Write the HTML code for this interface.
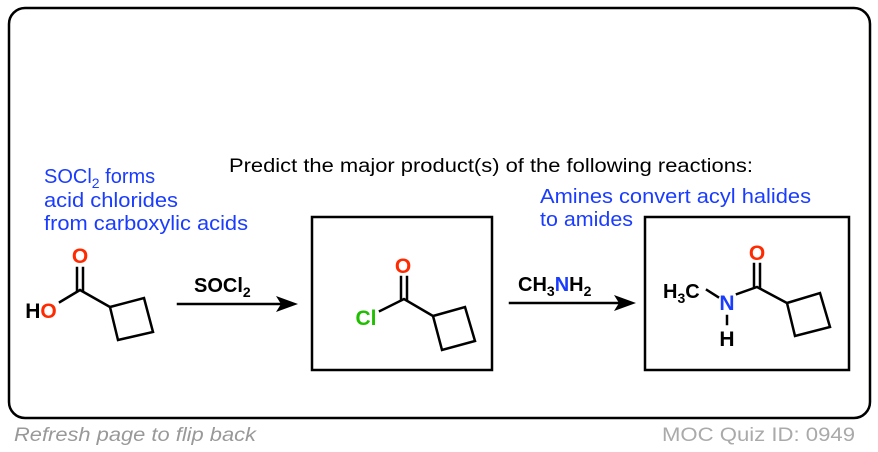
<!DOCTYPE html>
<html><head><meta charset="utf-8"><style>
html,body{margin:0;padding:0;background:#fff;}
svg{display:block;font-family:"Liberation Sans",Arial,sans-serif;}
</style></head><body>
<svg width="878" height="452" viewBox="0 0 878 452" xmlns="http://www.w3.org/2000/svg">
<rect x="9" y="8" width="861" height="410" rx="16" ry="16" fill="none" stroke="#000" stroke-width="2.5"/>
<g fill="#1a3cff" font-size="20">
<text x="44" y="183">SOCl<tspan font-size="14" dy="5">2</tspan><tspan dy="-5"> forms</tspan></text>
<text x="44" y="207" textLength="134" lengthAdjust="spacingAndGlyphs">acid chlorides</text>
<text x="44" y="230" textLength="204" lengthAdjust="spacingAndGlyphs">from carboxylic acids</text>
<text x="540" y="203" textLength="271" lengthAdjust="spacingAndGlyphs">Amines convert acyl halides</text>
<text x="540" y="226" textLength="93" lengthAdjust="spacingAndGlyphs">to amides</text>
</g>
<text x="229" y="172" font-size="19" fill="#000" textLength="524" lengthAdjust="spacingAndGlyphs">Predict the major product(s) of the following reactions:</text>
<g stroke="#000" stroke-width="2.5" fill="none" stroke-linecap="square">
<rect x="312" y="217" width="180" height="153"/>
<rect x="645" y="217" width="204" height="153"/>
<polyline points="60,302 80,290 110,307"/>
<line x1="77" y1="290" x2="77" y2="268"/><line x1="83" y1="290" x2="83" y2="268"/>
<polygon points="110,307 144,298 153,332 118,340"/>
<polyline points="380,311 404,299 433,316"/>
<line x1="401" y1="299" x2="401" y2="277"/><line x1="407" y1="299" x2="407" y2="277"/>
<polygon points="433,316 465,307 475,341 442,350"/>
<line x1="707" y1="290" x2="718" y2="297"/>
<polyline points="737,294 757,287 787,303"/>
<line x1="754" y1="287" x2="754" y2="264"/><line x1="760" y1="287" x2="760" y2="264"/>
<line x1="727" y1="316" x2="727" y2="324"/>
<polygon points="787,303 820,293 830,327 795,336"/>
<line x1="178" y1="304" x2="282" y2="304"/>
<line x1="510" y1="303" x2="620" y2="303"/>
</g>
<polygon points="298,304 276,296 281,304 276,312" fill="#000"/>
<polygon points="636,303 614,295 619,303 614,311" fill="#000"/>
<g font-weight="bold" font-size="21" text-anchor="middle">
<text x="41" y="318" fill="#000">H<tspan fill="#ff2a00">O</tspan></text>
<text x="80" y="263" fill="#ff2a00">O</text>
<text x="403" y="273" fill="#ff2a00">O</text>
<text x="366" y="325" fill="#1fbf00">Cl</text>
<text x="757" y="260" fill="#ff2a00">O</text>
<text x="727" y="310" fill="#1a3cff">N</text>
<text x="727" y="346" fill="#000">H</text>
</g>
<g font-weight="bold" font-size="20" fill="#000">
<text x="663" y="298">H<tspan font-size="14" dy="5">3</tspan><tspan dy="-5">C</tspan></text>
<text x="194" y="292">SOCl<tspan font-size="14" dy="5">2</tspan></text>
<text x="518" y="291">CH<tspan font-size="14" dy="5">3</tspan><tspan dy="-5" fill="#1a3cff">N</tspan><tspan>H</tspan><tspan font-size="14" dy="5">2</tspan></text>
</g>
<text x="14" y="441" font-size="19" font-style="italic" fill="#999" textLength="242" lengthAdjust="spacingAndGlyphs">Refresh page to flip back</text>
<text x="662" y="441" font-size="19" fill="#aaa" textLength="193" lengthAdjust="spacingAndGlyphs">MOC Quiz ID: 0949</text>
</svg>
</body></html>
